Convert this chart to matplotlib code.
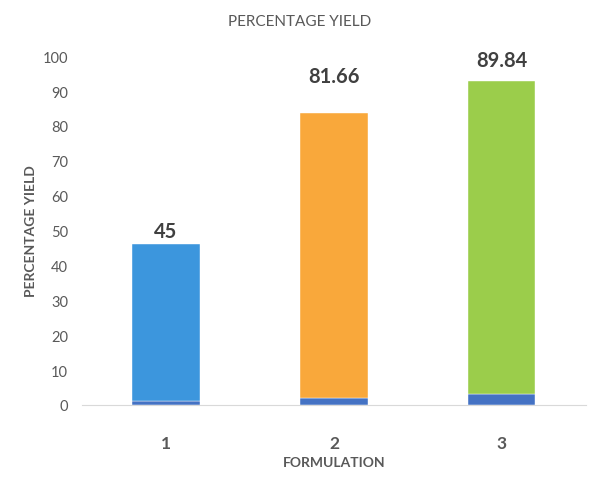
import numpy as np
import matplotlib.pyplot as plt

# Data
formulations = ['1', '2', '3']
base_values = [1, 2, 3]
yield_values = [45, 81.66, 89.84]
top_colors = ['#3C96DD', '#F9A83B', '#9BCD4B']
base_color = '#4472C4'
label_offsets = [2.2, 8.9, 4.3]  # data labels were nudged by hand in the original

plt.rcParams['font.family'] = ['Lato', 'DejaVu Sans']

fig = plt.figure(figsize=(5.99, 4.89), dpi=100)
ax = fig.add_axes([0.137, 0.170, 0.841, 0.713])

x = np.arange(len(formulations))
ax.bar(x, base_values, width=0.4, color=base_color, edgecolor='white', linewidth=0.3)
ax.bar(x, yield_values, width=0.4, bottom=base_values, color=top_colors,
       edgecolor='white', linewidth=0.3)

for xi, b, v, off in zip(x, base_values, yield_values, label_offsets):
    ax.text(xi, b + v + off, f'{v:g}', ha='center', va='baseline',
            fontsize=14.5, fontweight='bold', color='#404040')

ax.set_xlim(-0.5, len(formulations) - 0.5)
ax.set_ylim(0, 100)
ax.set_yticks(np.arange(0, 101, 10))
ax.set_xticks(x)
ax.set_xticklabels(formulations, fontsize=12.5, fontweight='bold', color='#595959')
ax.tick_params(axis='y', labelsize=10.5, labelcolor='#595959', length=0, pad=10)
ax.tick_params(axis='x', length=0, pad=22)

for s in ['top', 'right', 'left']:
    ax.spines[s].set_visible(False)
ax.spines['bottom'].set_color('#D9D9D9')

ax.set_xlabel('FORMULATION', fontsize=10, fontweight='bold', color='#595959', labelpad=3)
ax.set_ylabel('PERCENTAGE YIELD', fontsize=10, fontweight='bold', color='#595959', labelpad=4)
fig.text(0.5, 0.955, 'PERCENTAGE YIELD', ha='center', va='center', fontsize=11, color='#595959')

fig.savefig('out.png', dpi=100)
